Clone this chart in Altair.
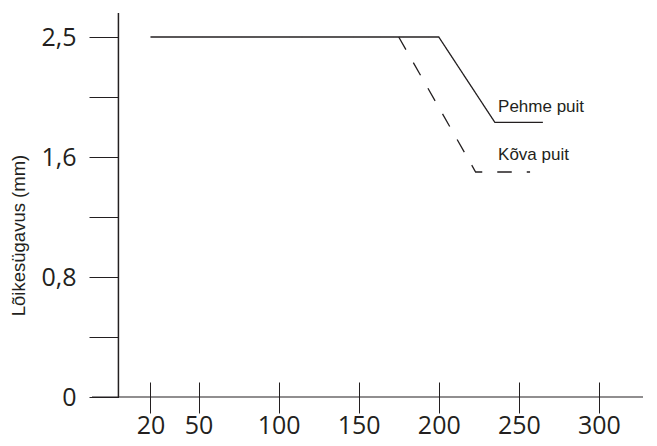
import altair as alt
import pandas as pd

# ---- data ----
series_names = ["Pehme puit", "Kõva puit"]
soft_x = [20, 200, 235, 265]
soft_y = [2.5, 2.5, 1.86, 1.86]
hard_x = [175, 223, 257]
hard_y = [2.5, 1.5, 1.5]
label_x = [237, 237]
label_y = [1.94, 1.58]
x_ticks = [20, 50, 100, 150, 200, 250, 300]
y_ticks = [0, 0.4, 0.8, 1.2, 1.6, 2.05, 2.5]
y_major = [0, 0.8, 1.6, 2.5]
y_major_labels = ["0", "0,8", "1,6", "2,5"]
y_title = "Lõikesügavus (mm)"
x_origin = [0]
y_origin = [0]

INK = "#231f20"
W, H = 551, 384
STEP = 120  # pixel distance between labelled y ticks

lines = pd.concat([
    pd.DataFrame({"x": soft_x, "y": soft_y, "s": series_names[0]}),
    pd.DataFrame({"x": hard_x, "y": hard_y, "s": series_names[1]}),
])
labels = pd.DataFrame({"x": label_x, "y": label_y, "t": series_names})

label_expr = " : ".join(
    f"datum.value == {v} ? '{t}'" for v, t in zip(y_major, y_major_labels)
) + " : ''"

xscale = alt.Scale(domain=[-16.5, 327.5], nice=False, zero=False)
yscale = alt.Scale(domain=y_major, range=[H, H - STEP, H - 2 * STEP, H - 3 * STEP],
                   nice=False, zero=False)

xaxis = alt.Axis(values=x_ticks, title=None, domain=False, grid=False,
                 tickSize=31, tickColor=INK, tickWidth=1, offset=-15,
                 labelFont="Open Sans", labelFontSize=25, labelColor=INK,
                 labelPadding=0, labelFlush=False, labelOverlap=False)
yaxis = alt.Axis(values=y_ticks, labelExpr=label_expr, title=y_title,
                 titleFont="Liberation Sans", titleFontSize=18.5,
                 titleFontWeight="normal", titleColor=INK,
                 titleX=-100, titleY=222, titleAngle=270,
                 titleAlign="center", titleBaseline="middle",
                 domain=False, grid=False, tickSize=29.5, tickColor=INK,
                 tickWidth=1, offset=-26.5,
                 labelFont="Open Sans", labelFontSize=25, labelColor=INK,
                 labelPadding=13, labelFlush=False, labelOverlap=False)

X = lambda f: alt.X(f, type="quantitative", scale=xscale, axis=xaxis)
Y = lambda f: alt.Y(f, type="quantitative", scale=yscale, axis=yaxis)

line_layer = alt.Chart(lines).mark_line(color=INK, strokeWidth=1.3).encode(
    x=X("x"), y=Y("y"),
    strokeDash=alt.StrokeDash("s:N", scale=alt.Scale(domain=series_names,
                                                     range=[[1, 0], [14.5, 15]]),
                              legend=None),
)

text_layer = alt.Chart(labels).mark_text(
    align="left", baseline="alphabetic", font="Liberation Sans",
    fontSize=17, color=INK
).encode(x=X("x"), y=Y("y"), text="t:N")

xline = alt.Chart(pd.DataFrame({"y": y_origin})).mark_rule(
    color=INK, strokeWidth=1.2).encode(y=Y("y"))
yline = alt.Chart(pd.DataFrame({"x": x_origin})).mark_rule(
    color=INK, strokeWidth=1.5).encode(x=X("x"))

chart = alt.layer(xline, yline, line_layer, text_layer).properties(
    width=W, height=H,
    autosize=alt.AutoSizeParams(type="none"),
    padding={"left": 84, "top": 5, "right": 2, "bottom": 42},
    background="white",
).configure_view(stroke=None)

chart.save("out.html", embed_options={"renderer": "svg", "actions": False})
